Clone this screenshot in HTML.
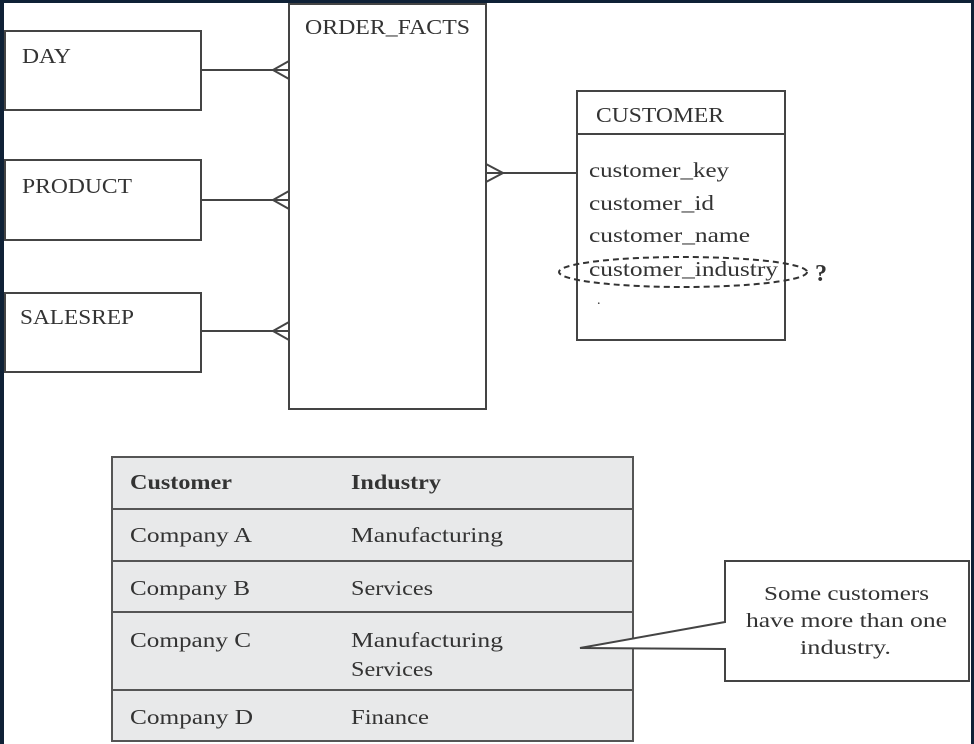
<!DOCTYPE html>
<html><head><meta charset="utf-8"><style>
body{margin:0;background:#fff}
svg{display:block}
text{font-family:"Liberation Serif",serif;fill:#333}
</style></head><body>
<svg width="974" height="744" viewBox="0 0 974 744" xmlns="http://www.w3.org/2000/svg">
<rect x="0" y="0" width="974" height="744" fill="#fff"/>
<g fill="none" stroke="#444" stroke-width="2">
<rect x="5" y="31" width="196" height="79"/>
<rect x="5" y="160" width="196" height="80"/>
<rect x="5" y="293" width="196" height="79"/>
<rect x="289" y="4" width="197" height="405"/>
<rect x="577" y="91" width="208" height="249"/>
<line x1="577" y1="134" x2="785" y2="134"/>
<line x1="201" y1="70" x2="289" y2="70"/>
<polyline points="289,61 273,70 289,79"/>
<line x1="201" y1="200" x2="289" y2="200"/>
<polyline points="289,191 273,200 289,209"/>
<line x1="201" y1="331" x2="289" y2="331"/>
<polyline points="289,322 273,331 289,340"/>
<line x1="486" y1="173" x2="577" y2="173"/>
<polyline points="486,164 503,173 486,182"/>
</g>
<ellipse cx="683" cy="272" rx="124" ry="15" fill="none" stroke="#333" stroke-width="2" stroke-dasharray="6,4"/>
<g font-size="21" lengthAdjust="spacingAndGlyphs">
<text x="22" y="63" textLength="49" lengthAdjust="spacingAndGlyphs">DAY</text>
<text x="22" y="193" textLength="110" lengthAdjust="spacingAndGlyphs">PRODUCT</text>
<text x="20" y="324" textLength="114" lengthAdjust="spacingAndGlyphs">SALESREP</text>
<text x="305" y="34" textLength="165" lengthAdjust="spacingAndGlyphs">ORDER_FACTS</text>
<text x="596" y="122" textLength="128" lengthAdjust="spacingAndGlyphs">CUSTOMER</text>
<text x="589" y="177" textLength="140" lengthAdjust="spacingAndGlyphs">customer_key</text>
<text x="589" y="210" textLength="125" lengthAdjust="spacingAndGlyphs">customer_id</text>
<text x="589" y="242" textLength="161" lengthAdjust="spacingAndGlyphs">customer_name</text>
<text x="589" y="276" textLength="189" lengthAdjust="spacingAndGlyphs">customer_industry</text>
</g>
<text x="597" y="304" font-size="14">.</text>
<text x="815" y="281" font-size="24" font-weight="bold">?</text>
<rect x="112" y="457" width="521" height="284" fill="#e8e9ea" stroke="#555" stroke-width="2"/>
<g stroke="#555" stroke-width="2">
<line x1="112" y1="509" x2="633" y2="509"/>
<line x1="112" y1="561" x2="633" y2="561"/>
<line x1="112" y1="612" x2="633" y2="612"/>
<line x1="112" y1="690" x2="633" y2="690"/>
</g>
<g font-size="21">
<text x="130" y="489" font-weight="bold" textLength="102" lengthAdjust="spacingAndGlyphs">Customer</text>
<text x="351" y="489" font-weight="bold" textLength="90" lengthAdjust="spacingAndGlyphs">Industry</text>
<text x="130" y="542" textLength="122" lengthAdjust="spacingAndGlyphs">Company A</text><text x="351" y="542" textLength="152" lengthAdjust="spacingAndGlyphs">Manufacturing</text>
<text x="130" y="595" textLength="120" lengthAdjust="spacingAndGlyphs">Company B</text><text x="351" y="595" textLength="82" lengthAdjust="spacingAndGlyphs">Services</text>
<text x="130" y="647" textLength="121" lengthAdjust="spacingAndGlyphs">Company C</text><text x="351" y="647" textLength="152" lengthAdjust="spacingAndGlyphs">Manufacturing</text>
<text x="351" y="676" textLength="82" lengthAdjust="spacingAndGlyphs">Services</text>
<text x="130" y="724" textLength="123" lengthAdjust="spacingAndGlyphs">Company D</text><text x="351" y="724" textLength="78" lengthAdjust="spacingAndGlyphs">Finance</text>
</g>
<polygon points="725,561 969,561 969,681 725,681 725,649 580,648 725,622" fill="#fff" stroke="#444" stroke-width="2"/>
<g font-size="20">
<text x="764" y="600" textLength="165" lengthAdjust="spacingAndGlyphs">Some customers</text>
<text x="746" y="627" textLength="201" lengthAdjust="spacingAndGlyphs">have more than one</text>
<text x="800" y="654" textLength="91" lengthAdjust="spacingAndGlyphs">industry.</text>
</g>
<rect x="0" y="0" width="974" height="3" fill="#0f2136"/>
<rect x="0" y="0" width="4" height="744" fill="#0f2136"/>
<rect x="971" y="0" width="3" height="744" fill="#0f2136"/>
</svg>
</body></html>
